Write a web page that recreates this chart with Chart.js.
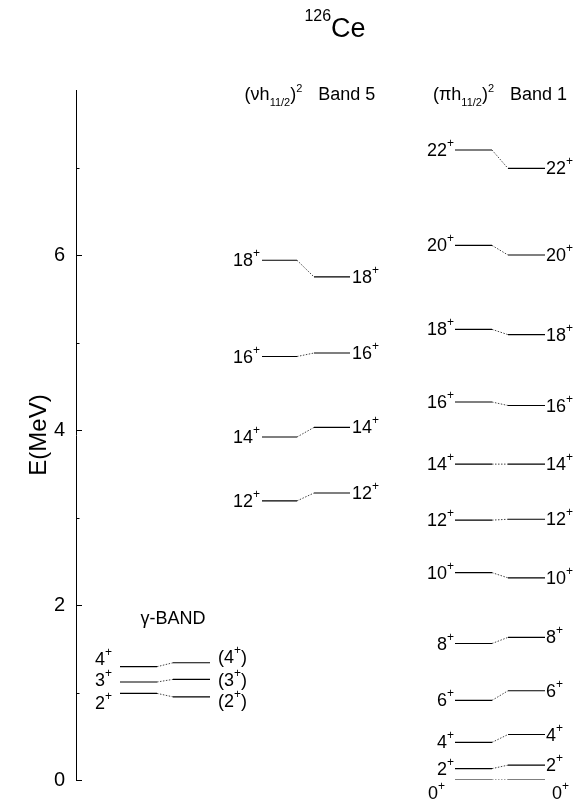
<!DOCTYPE html>
<html>
<head>
<meta charset="utf-8">
<script src="https://cdn.jsdelivr.net/npm/chart.js@4"></script>
<style>
  html, body { margin: 0; padding: 0; background: #fff; }
  #wrap { width: 577px; height: 810px; }
</style>
</head>
<body>
<div id="wrap"><canvas id="levels"></canvas></div>
<script>
// level energies in MeV
const groundSpins = [0, 2, 4, 6, 8, 10, 12, 14, 16, 18, 20, 22];
const groundExp = [0, 0.13, 0.43, 0.91, 1.56, 2.37, 2.97, 3.61, 4.32, 5.15, 6.11, 7.20];
const groundCalc = [0, 0.17, 0.52, 1.02, 1.63, 2.31, 2.98, 3.61, 4.28, 5.09, 6.00, 6.99];

const band5Spins = [12, 14, 16, 18];
const band5Exp = [3.19, 3.92, 4.84, 5.94];
const band5Calc = [3.28, 4.03, 4.88, 5.75];

const gammaSpins = [2, 3, 4];
const gammaExp = [0.99, 1.12, 1.295];
const gammaCalc = [0.95, 1.15, 1.34];

const yTicks = [0, 2, 4, 6];

const FONT = '"Liberation Sans", Arial, sans-serif';

// column layout, x-axis units (0..501 across the plot area)
const cols = {
  gamma: { l: [44, 81], r: [97, 134], gap: 8 },
  band5: { l: [186, 221], r: [238, 274], gap: 2 },
  band1: { l: [379, 416], r: [432, 469], gap: 1 },
};

// label nudges [dx, dy] in px where labels would collide
const nudge = {
  band1L: { 0: [-9, 13] },
  band1R: { 0: [6, 13] },
  gammaL: { 0: [0, 10], 1: [0, -2], 2: [0, -8] },
  gammaR: { 0: [0, 4], 1: [0, 1], 2: [0, -6] },
};

function levelPoints(span, energies) {
  const pts = [];
  energies.forEach((e) => {
    pts.push({ x: span[0], y: e }, { x: span[1], y: e }, { x: span[1], y: null });
  });
  return pts;
}

function linkPoints(c, left, right) {
  const pts = [];
  left.forEach((e, i) => {
    pts.push({ x: c.l[1], y: e }, { x: c.r[0], y: right[i] }, { x: c.r[0], y: null });
  });
  return pts;
}

function levelSet(data) {
  return { data, borderColor: "#000", borderWidth: 1.2, pointRadius: 0, spanGaps: false, tension: 0 };
}

function linkSet(data) {
  return { data, borderColor: "#444", borderWidth: 1, borderDash: [1.5, 1.5], pointRadius: 0, spanGaps: false, tension: 0 };
}

// draws text made of pieces {t, size, dy, pad}
function drawRich(ctx, parts, x, y, align) {
  let total = 0;
  parts.forEach((p) => {
    ctx.font = p.size + "px " + FONT;
    p.w = ctx.measureText(p.t).width + (p.pad || 0);
    total += p.w;
  });
  let cur = align === "right" ? x - total : align === "center" ? x - total / 2 : x;
  ctx.textAlign = "left";
  ctx.textBaseline = "alphabetic";
  parts.forEach((p) => {
    ctx.font = p.size + "px " + FONT;
    ctx.fillText(p.t, cur + (p.pad || 0), y + (p.dy || 0));
    cur += p.w;
  });
}

function spinParts(s, paren) {
  const parts = [{ t: String(s), size: 18 }, { t: "+", size: 12, dy: -9 }];
  if (paren) {
    parts.unshift({ t: "(", size: 18 });
    parts.push({ t: ")", size: 18 });
  }
  return parts;
}

function headerParts(sym, name) {
  return [
    { t: "(" + sym + "h", size: 18 }, { t: "11/2", size: 11, dy: 6 }, { t: ")", size: 18 },
    { t: "2", size: 11, dy: -8 }, { t: name, size: 18, pad: 16 },
  ];
}

const textPlugin = {
  id: "levelText",
  afterDatasetsDraw(chart) {
    const { ctx, chartArea } = chart;
    const x = chart.scales.x;
    const y = chart.scales.y;
    ctx.save();
    ctx.fillStyle = "#000";

    function labels(c, spins, exp, calc, nl, nr, paren) {
      spins.forEach((s, i) => {
        const a = nl[i] || [0, 0];
        const b = nr[i] || [0, 0];
        drawRich(ctx, spinParts(s, false), x.getPixelForValue(c.l[0]) - c.gap + a[0], y.getPixelForValue(exp[i]) + 6 + a[1], "right");
        drawRich(ctx, spinParts(s, paren), x.getPixelForValue(c.r[1]) + c.gap + b[0], y.getPixelForValue(calc[i]) + 6 + b[1], "left");
      });
    }
    labels(cols.band1, groundSpins, groundExp, groundCalc, nudge.band1L, nudge.band1R, false);
    labels(cols.band5, band5Spins, band5Exp, band5Calc, {}, {}, false);
    labels(cols.gamma, gammaSpins, gammaExp, gammaCalc, nudge.gammaL, nudge.gammaR, true);

    const mid = (c) => x.getPixelForValue((c.l[0] + c.r[1]) / 2);
    const hy = chartArea.top + 10;
    drawRich(ctx, headerParts("\u03bd", "Band 5"), mid(cols.band5) + 4, hy, "center");
    drawRich(ctx, headerParts("\u03c0", "Band 1"), mid(cols.band1), hy, "center");
    drawRich(ctx, [{ t: "\u03b3-BAND", size: 18 }], mid(cols.gamma) + 8, y.getPixelForValue(1.78), "center");

    // nucleus title
    drawRich(ctx, [{ t: "126", size: 16, dy: -16 }, { t: "Ce", size: 27 }], 335, 37, "center");

    // inward ticks on the energy axis
    ctx.strokeStyle = "#000";
    ctx.lineWidth = 1;
    for (let v = 0; v <= 7; v++) {
      const py = Math.round(y.getPixelForValue(v)) + 0.5;
      ctx.beginPath();
      ctx.moveTo(chartArea.left, py);
      ctx.lineTo(chartArea.left + (v % 2 === 0 ? 6 : 3.5), py);
      ctx.stroke();
    }
    ctx.restore();
  },
};

new Chart(document.getElementById("levels"), {
  type: "line",
  data: {
    datasets: [
      levelSet(levelPoints(cols.band1.l, groundExp)),
      levelSet(levelPoints(cols.band1.r, groundCalc)),
      linkSet(linkPoints(cols.band1, groundExp, groundCalc)),
      levelSet(levelPoints(cols.band5.l, band5Exp)),
      levelSet(levelPoints(cols.band5.r, band5Calc)),
      linkSet(linkPoints(cols.band5, band5Exp, band5Calc)),
      levelSet(levelPoints(cols.gamma.l, gammaExp)),
      levelSet(levelPoints(cols.gamma.r, gammaCalc)),
      linkSet(linkPoints(cols.gamma, gammaExp, gammaCalc)),
    ],
  },
  options: {
    responsive: true,
    maintainAspectRatio: false,
    animation: false,
    layout: { padding: { top: 90, bottom: 30, left: 0, right: 0 } },
    plugins: {
      legend: { display: false },
      tooltip: { enabled: false },
    },
    scales: {
      x: { type: "linear", min: 0, max: 501, display: false },
      y: {
        min: 0,
        max: 7.886,
        afterBuildTicks: (s) => { s.ticks = yTicks.map((v) => ({ value: v })); },
        afterFit: (s) => { s.width = 76; },
        ticks: { color: "#000", padding: 11, font: { size: 20, family: FONT } },
        grid: { display: false, drawTicks: false },
        border: { display: true, color: "#000", width: 1 },
        title: {
          display: true,
          text: "E(MeV)",
          color: "#000",
          font: { size: 24, family: FONT },
          padding: { top: 25 },
        },
      },
    },
  },
  plugins: [textPlugin],
});
</script>
</body>
</html>
